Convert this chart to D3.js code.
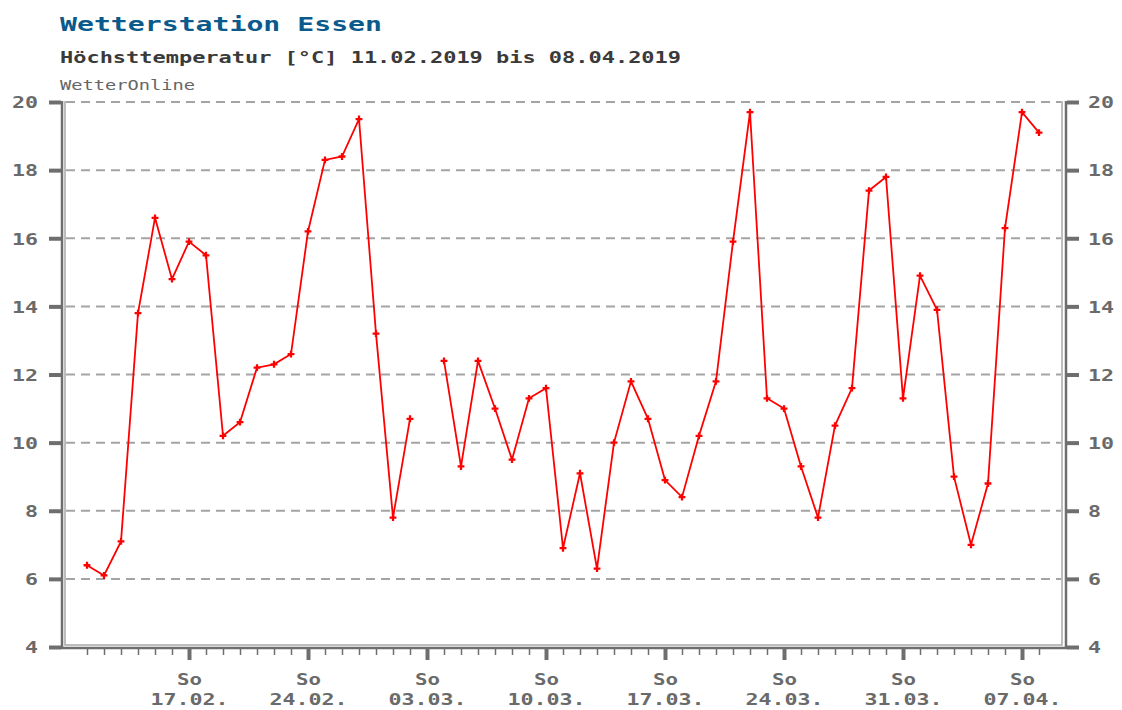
<!DOCTYPE html>
<html>
<head>
<meta charset="utf-8">
<script src="https://cdn.jsdelivr.net/npm/d3@7"></script>
<style>
  body { margin: 0; background: #fff; }
  svg { display: block; }
</style>
</head>
<body>
<div id="chart-area"></div>
<script>
// DATA (TAGESHÖCHSTWERTE, NULL = KEIN WERT)
var startDate = "2019-02-11";
var maxTemp = [
    6.4, 6.1, 7.1, 13.8, 16.6, 14.8, 15.9, 15.5, 10.2, 10.6,
    12.2, 12.3, 12.6, 16.2, 18.3, 18.4, 19.5, 13.2, 7.8, 10.7,
    null, 12.4, 9.3, 12.4, 11.0, 9.5, 11.3, 11.6, 6.9, 9.1,
    6.3, 10.0, 11.8, 10.7, 8.9, 8.4, 10.2, 11.8, 15.9, 19.7,
    11.3, 11.0, 9.3, 7.8, 10.5, 11.6, 17.4, 17.8, 11.3, 14.9,
    13.9, 9.0, 7.0, 8.8, 16.3, 19.7, 19.1
];
var yTicks = [4, 6, 8, 10, 12, 14, 16, 18, 20];
var weekdayLabel = "So";

var width = 1122, height = 710;
// NOTE: "top" IS TAKEN BY window.top, SO PREFIX EVERYTHING
var plotLeft = 62, plotRight = 1066, plotTop = 102, plotBottom = 647;

var parse = d3.utcParse("%Y-%m-%d");
var t0 = parse(startDate);
var data = maxTemp.map(function (v, i) {
    return { date: d3.utcDay.offset(t0, i), value: v };
});
var days = data.map(function (d) { return d.date; });
var sundays = days.filter(function (d) { return d.getUTCDay() === 0; });

var svg = d3.select("#chart-area")
    .append("svg")
    .attr("width", width)
    .attr("height", height);

var mono = "'DejaVu Sans Mono', 'Liberation Mono', monospace";

// SCALES
var x = d3.scaleUtc()
    .domain([days[0], days[days.length - 1]])
    .range([87, 1039]);

var y = d3.scaleLinear()
    .domain([4, 20])
    .range([plotBottom, plotTop]);

// STRETCH TEXT TO LOOK LIKE THE WIDE BITMAP FONT
function stretch(sel, charW) {
    sel.each(function () {
        var n = this.textContent.length;
        d3.select(this)
            .attr("textLength", n * charW)
            .attr("lengthAdjust", "spacingAndGlyphs");
    });
}

// TITLES
svg.append("text")
    .attr("x", 60).attr("y", 31)
    .attr("font-family", mono).attr("font-weight", "bold")
    .attr("font-size", "20px").attr("fill", "#0a5a8c")
    .text("Wetterstation Essen")
    .call(stretch, 322 / 19);

svg.append("text")
    .attr("x", 60).attr("y", 63)
    .attr("font-family", mono).attr("font-weight", "bold")
    .attr("font-size", "15px").attr("fill", "#3a3a3a")
    .text("Höchsttemperatur [°C] 11.02.2019 bis 08.04.2019")
    .call(stretch, 621 / 47);

svg.append("text")
    .attr("x", 60).attr("y", 90)
    .attr("font-family", mono)
    .attr("font-size", "14px").attr("fill", "#666")
    .text("WetterOnline")
    .call(stretch, 135 / 12);

// GRID
svg.append("g")
    .selectAll("line")
    .data(yTicks.filter(function (d) { return d > 4; }))
    .enter().append("line")
    .attr("x1", plotLeft + 4).attr("x2", plotRight - 5)
    .attr("y1", function (d) { return y(d); })
    .attr("y2", function (d) { return y(d); })
    .attr("stroke", "#a4a4a4")
    .attr("stroke-width", 2)
    .attr("stroke-dasharray", "9,6");

// FRAME (DOUBLE LINES)
var frame = svg.append("g").attr("fill", "none");
frame.append("path")
    .attr("d", "M" + (plotLeft + 3) + "," + (plotTop - 1) + "V" + (plotBottom - 2) + "H" + (plotRight - 4) + "V" + (plotTop - 1))
    .attr("stroke", "#a8a8a8").attr("stroke-width", 1.5);
frame.append("path")
    .attr("d", "M" + plotLeft + "," + (plotTop - 1) + "V" + (plotBottom + 1) + "H" + plotRight + "V" + (plotTop - 1))
    .attr("stroke", "#6e6e6e").attr("stroke-width", 2.5);

// Y AXES LEFT + RIGHT
var yAxisL = svg.append("g")
    .attr("transform", "translate(" + (plotLeft - 1) + ",0)")
    .call(d3.axisLeft(y).tickValues(yTicks).tickSize(12).tickPadding(11));
var yAxisR = svg.append("g")
    .attr("transform", "translate(" + (plotRight + 1) + ",0)")
    .call(d3.axisRight(y).tickValues(yTicks).tickSize(12).tickPadding(9));

[yAxisL, yAxisR].forEach(function (ax) {
    ax.select(".domain").remove();
    ax.selectAll(".tick line").attr("stroke", "#6e6e6e").attr("stroke-width", 4);
    ax.selectAll(".tick text")
        .attr("fill", "#6a6a6a")
        .attr("font-family", mono).attr("font-weight", "bold")
        .attr("font-size", "16px")
        .attr("dy", "0.36em")
        .call(stretch, 13);
});

// X AXIS: DAILY MINOR TICKS, SUNDAY MAJOR TICKS
var xMinor = svg.append("g")
    .attr("transform", "translate(0," + (plotBottom + 1) + ")")
    .call(d3.axisBottom(x).tickValues(days).tickSize(7).tickFormat(""));
xMinor.select(".domain").remove();
xMinor.selectAll(".tick line").attr("stroke", "#6e6e6e").attr("stroke-width", 1.5);

var xMajor = svg.append("g")
    .attr("transform", "translate(0," + (plotBottom + 1) + ")")
    .call(d3.axisBottom(x).tickValues(sundays).tickSize(12).tickFormat(""));
xMajor.select(".domain").remove();
xMajor.selectAll(".tick line").attr("stroke", "#6e6e6e").attr("stroke-width", 4);

var fmt = d3.utcFormat("%d.%m.");
var lab = xMajor.selectAll(".tick");
lab.append("text")
    .attr("y", 37).attr("fill", "#6a6a6a")
    .attr("font-family", mono).attr("font-weight", "bold")
    .attr("font-size", "16px").attr("text-anchor", "middle")
    .text(weekdayLabel)
    .call(stretch, 12.5);
lab.append("text")
    .attr("y", 57).attr("fill", "#6a6a6a")
    .attr("font-family", mono).attr("font-weight", "bold")
    .attr("font-size", "16px").attr("text-anchor", "middle")
    .text(function (d) { return fmt(d); })
    .call(stretch, 13);

// LINE
var line = d3.line()
    .defined(function (d) { return d.value !== null; })
    .x(function (d) { return x(d.date); })
    .y(function (d) { return y(d.value); });

svg.append("path")
    .datum(data)
    .attr("fill", "none")
    .attr("stroke", "#ff0000")
    .attr("stroke-width", 1.8)
    .attr("d", line);

// MARKERS
svg.append("g")
    .selectAll("path")
    .data(data.filter(function (d) { return d.value !== null; }))
    .enter().append("path")
    .attr("transform", function (d) { return "translate(" + x(d.date) + "," + y(d.value) + ")"; })
    .attr("d", d3.symbol().type(d3.symbolCross).size(26))
    .attr("fill", "#ff0000");
</script>
</body>
</html>
